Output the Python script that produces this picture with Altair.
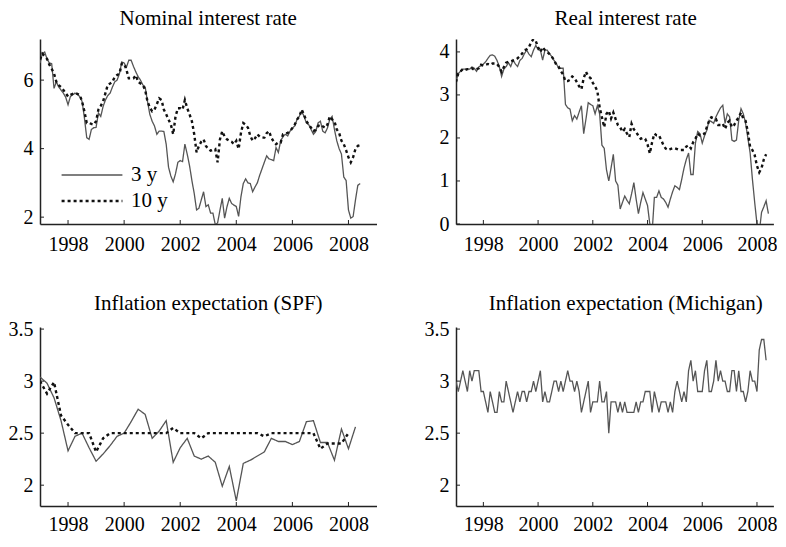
import altair as alt
import pandas as pd

START_YEAR = 1997
X_TICKS = [1998, 2000, 2002, 2004, 2006, 2008]
SERIES = ["3 y", "10 y"]

# Monthly series, first value = January 1997
nominal_3y = [6.5, 6.77, 6.82, 6.62, 6.5, 6.48, 5.76, 5.95, 5.8, 5.71, 5.62, 5.5,
              5.28, 5.52, 5.57, 5.62, 5.58, 5.52, 5.38, 4.9, 4.32, 4.27, 4.56, 4.61,
              4.62, 5.04, 4.94, 5.23, 5.42, 5.55, 5.62, 5.8, 5.95, 6.0, 6.19, 6.53,
              6.5, 6.38, 6.58, 6.58, 6.4, 6.24, 6.1, 6.0, 5.86, 5.8, 5.38, 5.0,
              4.8, 4.66, 4.42, 4.51, 4.51, 4.5, 4.13, 3.46, 3.2, 3.03, 3.27, 3.6,
              3.65, 3.62, 4.13, 3.84, 3.5, 3.07, 2.69, 2.21, 2.26, 2.5, 2.74, 2.31,
              2.36, 2.12, 2.12, 1.78, 1.83, 2.2, 2.55, 1.97, 2.3, 2.55, 2.4, 2.35,
              2.31, 2.02, 2.6, 2.98, 3.12, 3.0, 2.98, 2.74, 2.88, 3.0, 3.22, 3.41,
              3.6, 3.79, 3.7, 3.68, 3.65, 4.03, 3.89, 4.23, 4.35, 4.42, 4.37, 4.51,
              4.6, 4.66, 4.85, 4.95, 5.09, 4.94, 4.75, 4.7, 4.56, 4.42, 4.5, 4.75,
              4.8, 4.51, 4.46, 4.6, 4.85, 4.94, 4.56, 4.23, 4.0, 3.84, 3.17, 3.07,
              2.21, 1.97, 2.02, 2.5, 2.93, 2.98]
nominal_10y = [6.6, 6.77, 6.7, 6.62, 6.45, 6.33, 6.19, 5.95, 5.85, 5.8, 5.71, 5.62,
               5.52, 5.57, 5.6, 5.62, 5.6, 5.57, 5.38, 5.09, 4.75, 4.75, 4.72, 4.7,
               4.8, 5.14, 5.25, 5.38, 5.62, 5.86, 5.9, 5.95, 6.1, 6.15, 6.19, 6.48,
               6.48, 6.3, 6.05, 6.05, 6.05, 6.14, 5.95, 5.9, 5.86, 5.71, 5.38, 5.2,
               5.09, 5.14, 5.3, 5.47, 5.42, 5.14, 5.0, 4.85, 4.7, 4.42, 4.94, 5.18,
               5.18, 5.14, 5.42, 5.18, 5.0, 4.8, 4.42, 3.89, 4.08, 4.2, 4.27, 4.08,
               3.99, 3.94, 3.97, 3.99, 3.6, 4.27, 4.51, 4.35, 4.27, 4.23, 4.2, 4.13,
               4.23, 3.99, 4.46, 4.75, 4.7, 4.61, 4.37, 4.23, 4.3, 4.42, 4.35, 4.32,
               4.32, 4.45, 4.51, 4.32, 4.2, 4.13, 4.18, 4.18, 4.42, 4.44, 4.46, 4.51,
               4.6, 4.7, 4.85, 4.94, 5.14, 4.99, 4.8, 4.7, 4.61, 4.51, 4.55, 4.66,
               4.7, 4.65, 4.61, 4.7, 4.94, 4.85, 4.8, 4.56, 4.46, 4.23, 4.13, 3.95,
               3.75, 3.6, 3.75, 3.99, 4.08, 4.1]
real_3y = [3.3, 3.5, 3.55, 3.6, 3.6, 3.6, 3.6, 3.65, 3.62, 3.55, 3.65, 3.68,
           3.72, 3.77, 3.85, 3.92, 3.93, 3.9, 3.8, 3.66, 3.43, 3.6, 3.66, 3.75,
           3.66, 3.81, 3.72, 3.66, 3.8, 3.85, 3.96, 4.04, 3.95, 3.89, 4.04, 4.15,
           4.05, 4.04, 3.81, 4.04, 4.04, 3.96, 3.89, 3.8, 3.73, 3.62, 3.62, 3.62,
           2.78, 2.7, 2.67, 2.4, 2.52, 2.44, 2.6, 2.75, 2.1, 2.44, 2.82, 2.78,
           2.75, 2.56, 2.75, 2.56, 1.83, 1.76, 1.26, 1.0, 1.3, 1.62, 1.0, 0.9,
           0.35, 0.5, 0.65, 0.55, 0.47, 0.7, 0.96, 0.58, 0.24, 0.5, 0.73, 0.58,
           0.43, 0.0, -0.2, 0.62, 0.62, 0.77, 0.62, 0.58, 0.5, 0.39, 0.58, 0.75,
           0.89, 0.85, 0.8, 1.04, 1.3, 1.5, 1.65, 1.15, 1.15, 1.88, 2.15, 2.1,
           1.88, 2.05, 2.18, 2.41, 2.38, 2.34, 2.49, 2.6, 2.7, 2.76, 2.34, 2.56,
           2.49, 1.95, 1.92, 1.95, 2.41, 2.68, 2.56, 2.34, 2.0, 1.65, 1.04, 0.5,
           0.0, -0.2, 0.27, 0.4, 0.54, 0.24]
real_10y = [3.3, 3.5, 3.55, 3.6, 3.58, 3.6, 3.6, 3.62, 3.58, 3.6, 3.62, 3.7,
            3.68, 3.7, 3.72, 3.7, 3.73, 3.73, 3.72, 3.65, 3.54, 3.65, 3.75, 3.77,
            3.78, 3.8, 3.82, 3.85, 3.9, 3.96, 4.04, 4.06, 4.11, 4.23, 4.3, 4.25,
            4.11, 4.0, 4.11, 4.04, 4.0, 3.95, 3.89, 3.81, 3.7, 3.66, 3.55, 3.47,
            3.32, 3.32, 3.35, 3.43, 3.39, 3.3, 3.2, 3.13, 3.39, 3.54, 3.43, 3.39,
            3.28, 3.2, 3.09, 2.71, 2.48, 2.25, 2.56, 2.63, 2.45, 2.59, 2.44, 2.3,
            2.25, 2.14, 2.21, 2.1, 2.02, 2.33, 2.2, 2.14, 2.05, 1.98, 2.0, 1.98,
            1.85, 1.64, 1.9, 2.1, 2.06, 2.06, 1.95, 1.83, 1.75, 1.72, 1.74, 1.76,
            1.76, 1.74, 1.72, 1.72, 1.72, 1.8, 1.83, 1.76, 1.9, 1.98, 2.1, 2.06,
            2.08, 2.1, 2.25, 2.4, 2.48, 2.46, 2.44, 2.3, 2.3, 2.33, 2.21, 2.35,
            2.4, 2.25, 2.3, 2.4, 2.48, 2.59, 2.45, 2.4, 2.14, 1.79, 1.72, 1.6,
            1.35, 1.2, 1.3, 1.5, 1.62]
michigan = [3.0, 2.9, 3.0, 3.1, 3.0, 2.9, 3.1, 3.0, 3.1, 3.1, 3.1, 2.9,
            2.9, 2.8, 2.7, 2.9, 2.8, 2.7, 2.7, 2.9, 2.8, 2.8, 3.0, 2.9,
            2.8, 2.7, 2.8, 2.9, 2.8, 2.9, 2.9, 2.8, 2.9, 2.9, 3.0, 2.9,
            3.0, 3.1, 2.8, 2.9, 2.8, 2.8, 2.9, 3.0, 3.0, 2.9, 3.0, 2.9,
            3.0, 3.1, 3.0, 3.0, 2.9, 3.0, 2.9, 2.7, 2.8, 2.9, 3.0, 2.7,
            2.8, 2.8, 2.8, 3.0, 2.8, 2.8, 2.9, 2.5, 2.8, 2.8, 2.8, 2.7,
            2.8, 2.7, 2.8, 2.7, 2.7, 2.7, 2.7, 2.8, 2.7, 2.8, 2.8, 2.9,
            2.9, 2.9, 2.7, 2.9, 2.8, 2.7, 2.8, 2.8, 2.8, 2.7, 2.8, 2.7,
            2.9, 3.0, 2.9, 2.8, 2.9, 2.8, 3.1, 3.2, 3.0, 3.1, 2.9, 2.9,
            2.9, 3.1, 3.2, 2.9, 2.9, 3.0, 3.2, 3.0, 3.1, 3.0, 3.0, 2.9,
            2.9, 3.1, 3.1, 2.9, 3.1, 2.9, 2.9, 2.8, 2.9, 3.1, 3.0, 3.0,
            2.9, 3.3, 3.4, 3.4, 3.2]
# Quarterly SPF series, first value = 1997 Q1
spf_short = [3.04, 2.98, 2.84, 2.62, 2.33, 2.47, 2.5, 2.36, 2.23, 2.3, 2.38, 2.47,
             2.5, 2.61, 2.73, 2.68, 2.45, 2.52, 2.62, 2.22, 2.36, 2.45, 2.28, 2.25,
             2.28, 2.22, 1.99, 2.18, 1.85, 2.21, 2.24, 2.28, 2.32, 2.45, 2.42, 2.42,
             2.39, 2.42, 2.61, 2.62, 2.41, 2.41, 2.24, 2.54, 2.35, 2.56]
spf_long = [3.0, 2.88, 2.99, 2.67, 2.58, 2.5, 2.5, 2.5, 2.32, 2.45, 2.5, 2.5,
            2.5, 2.5, 2.5, 2.5, 2.5, 2.5, 2.5, 2.55, 2.5, 2.5, 2.5, 2.45,
            2.5, 2.5, 2.5, 2.5, 2.5, 2.5, 2.5, 2.5, 2.47, 2.5, 2.5, 2.5,
            2.5, 2.5, 2.5, 2.5, 2.35, 2.4, 2.4, 2.4, 2.5]

FONT = "Liberation Serif"
H_TOP = 185
H_BOTTOM = 179
W_LEFT = 336.5
W_RIGHT = 317.4
X_END_LEFT = 2009
X_END_RIGHT = 2008.6


def frame(series_dict, step):
    rows = []
    for name, vals in series_dict.items():
        for i, v in enumerate(vals):
            rows.append({"year": START_YEAR + i * step, "value": v, "series": name})
    return pd.DataFrame(rows)


def panel(df, title, ydomain, yticks, width, height, xend, dx, label_pad, title_offset, show_legend):
    xs = alt.Scale(domain=[START_YEAR, xend], nice=False, zero=False)
    ys = alt.Scale(domain=ydomain, nice=False, zero=False)
    xaxis = alt.Axis(values=X_TICKS, format="d", ticks=False, grid=False, title=None,
                     labelPadding=label_pad, labelFont=FONT, labelFontSize=20, labelColor="black",
                     labelFlush=False, labelOverlap=False,
                     domainColor="#222", domainWidth=1.5)
    yaxis = alt.Axis(values=yticks, format="~g", ticks=False, grid=False, title=None,
                     labelPadding=7, labelFont=FONT, labelFontSize=20, labelColor="black",
                     labelFlush=False, labelOverlap=False,
                     domainColor="#222", domainWidth=1.5, minExtent=32, maxExtent=32)
    legend = None
    if show_legend:
        legend = alt.Legend(title=None, orient="none", legendX=20, legendY=123,
                            direction="vertical", symbolType="stroke", symbolSize=3700,
                            labelFont=FONT, labelFontSize=21, labelColor="black",
                            labelOffset=7, rowPadding=0, clipHeight=26, padding=0)
    lines = alt.Chart(df).mark_line(clip=True).encode(
        x=alt.X("year:Q", scale=xs, axis=xaxis),
        y=alt.Y("value:Q", scale=ys, axis=yaxis),
        color=alt.Color("series:N", scale=alt.Scale(domain=SERIES, range=["#555555", "#111111"]), legend=legend),
        strokeDash=alt.StrokeDash("series:N", scale=alt.Scale(domain=SERIES, range=[[1, 0], [3, 3]]), legend=legend),
        strokeWidth=alt.StrokeWidth("series:N", scale=alt.Scale(domain=SERIES, range=[1.3, 2.4]), legend=legend),
    )
    xt = alt.Chart(pd.DataFrame({"year": X_TICKS})).mark_rule(color="#222", strokeWidth=1).encode(
        x=alt.X("year:Q", scale=xs), y=alt.value(height), y2=alt.value(height - 4))
    yt = alt.Chart(pd.DataFrame({"value": yticks})).mark_rule(color="#222", strokeWidth=1).encode(
        y=alt.Y("value:Q", scale=ys), x=alt.value(0), x2=alt.value(4))
    return alt.layer(lines, xt, yt).properties(
        width=width, height=height,
        title=alt.TitleParams(text=title, font=FONT, fontSize=21, fontWeight="normal",
                              color="black", offset=title_offset, frame="group", anchor="middle", dx=dx),
    )


nom = panel(frame({"3 y": nominal_3y, "10 y": nominal_10y}, 1 / 12), "Nominal interest rate",
            [1.8, 7.2], [2, 4, 6], W_LEFT, H_TOP, X_END_LEFT, 0, 10, 10, True)
real = panel(frame({"3 y": real_3y, "10 y": real_10y}, 1 / 12), "Real interest rate",
             [0, 4.3], [0, 1, 2, 3, 4], W_RIGHT, H_TOP, X_END_RIGHT, 11, 10, 10, False)
spf = panel(frame({"3 y": spf_short, "10 y": spf_long}, 0.25), "Inflation expectation (SPF)",
            [1.8, 3.52], [2, 2.5, 3, 3.5], W_LEFT, H_BOTTOM, X_END_LEFT, 0, 8, 5, False)
mich = panel(frame({"3 y": michigan}, 1 / 12), "Inflation expectation (Michigan)",
             [1.8, 3.52], [2, 2.5, 3, 3.5], W_RIGHT, H_BOTTOM, X_END_RIGHT, 11, 8, 5, False)

chart = alt.concat(nom, real, spf, mich, columns=2, spacing={"row": 39, "column": 47}).properties(
    padding=0, align="each", bounds="full"
).configure_view(stroke=None).resolve_scale(color="independent", strokeDash="independent", strokeWidth="independent")

chart.save("out.html", embed_options={"renderer": "svg", "actions": False})
